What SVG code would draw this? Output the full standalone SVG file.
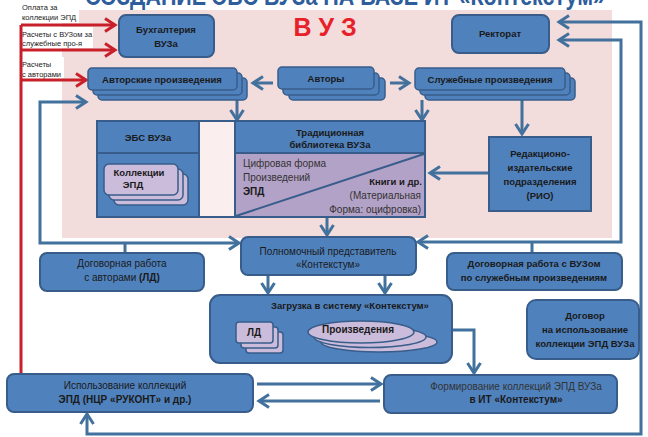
<svg xmlns="http://www.w3.org/2000/svg" width="648" height="437" viewBox="0 0 648 437">
<defs>
<style>
text{font-family:"Liberation Sans",Arial,sans-serif;fill:#1a1a1a}
.b{font-weight:bold}
.box{fill:#4f81bd;stroke:#385d8a;stroke-width:2}
.stk{fill:#4f81bd;stroke:#385d8a;stroke-width:1.5}
.pur{fill:#cbbcdb;stroke:#385d8a;stroke-width:1.5}
.ln{fill:none;stroke:#41719c;stroke-width:3}
.rd{fill:none;stroke:#c8202a;stroke-width:3}
.s95{font-size:9.5px}
.s10{font-size:10px}
.s7{font-size:7.5px}
</style>
<marker id="ab" markerUnits="userSpaceOnUse" markerWidth="16" markerHeight="16" viewBox="0 0 16 16" refX="13" refY="8" orient="auto-start-reverse">
<path d="M3,1.5 L13,8 L3,14.5" fill="none" stroke="#41719c" stroke-width="3"/>
</marker>
<marker id="ar" markerUnits="userSpaceOnUse" markerWidth="16" markerHeight="16" viewBox="0 0 16 16" refX="13" refY="8" orient="auto-start-reverse">
<path d="M3,1.5 L13,8 L3,14.5" fill="none" stroke="#c8202a" stroke-width="3"/>
</marker>
</defs>
<rect width="648" height="437" fill="#ffffff"/>
<rect x="62" y="10" width="550" height="228" fill="#f3dcdc"/>
<text x="345" y="5" class="b" font-size="26" text-anchor="middle" style="fill:#2e5d9c" textLength="520" lengthAdjust="spacingAndGlyphs">СОЗДАНИЕ ЭБС ВУЗа НА БАЗЕ ИТ «Контекстум»</text>
<text x="325" y="36" class="b" font-size="25" text-anchor="middle" style="fill:#e8202a">В У З</text>

<g id="labels-red">
<rect x="19" y="0" width="60" height="23" fill="#fff"/>
<rect x="19" y="27" width="74" height="21" fill="#fff"/>
<rect x="19" y="57" width="45" height="21" fill="#fff"/>
<text x="22" y="10" class="s7">Оплата за</text>
<text x="22" y="20" class="s7">коллекции ЭПД</text>
<text x="22" y="37" class="s7">Расчеты с ВУЗом за</text>
<text x="22" y="46" class="s7">служебные про-я</text>
<text x="22" y="67" class="s7">Расчеты</text>
<text x="22" y="77" class="s7">с авторами</text>
</g>

<g id="connectors">
<path class="rd" d="M21,25 V374"/>
<path class="rd" d="M21,25 H115" marker-end="url(#ar)"/>
<path class="rd" d="M21,50 H115" marker-end="url(#ar)"/>
<path class="rd" d="M21,80 H86" marker-end="url(#ar)"/>
<path class="ln" d="M273,83 H253" marker-end="url(#ab)"/>
<path class="ln" d="M390,83 H409" marker-end="url(#ab)"/>
<path class="ln" d="M237,100 V120" marker-end="url(#ab)"/>
<path class="ln" d="M422,100 V120" marker-end="url(#ab)"/>
<path class="ln" d="M522,100 V134" marker-end="url(#ab)"/>
<path class="ln" d="M489,173 H430" marker-end="url(#ab)"/>
<path class="ln" d="M205,180 H233" marker-end="url(#ab)"/>
<path class="ln" d="M229,195 H203" marker-end="url(#ab)"/>
<path class="ln" d="M327,217 V235" marker-end="url(#ab)"/>
<path class="ln" d="M86,102 H40 V243 H239" marker-start="url(#ab)" marker-end="url(#ab)"/>
<path class="ln" d="M125,243 V253"/>
<path class="ln" d="M559,40 H621 V242 H418" marker-start="url(#ab)" marker-end="url(#ab)"/>
<path class="ln" d="M532,242 V253"/>
<path class="ln" d="M559,22 H641 V434 H87 V414" marker-start="url(#ab)" marker-end="url(#ab)"/>
<path class="ln" d="M268,275 V293" marker-end="url(#ab)"/>
<path class="ln" d="M385,275 V293" marker-end="url(#ab)"/>
<path class="ln" d="M452,330 H474 V373" marker-end="url(#ab)"/>
<path class="ln" d="M257,384 H381" marker-end="url(#ab)"/>
<path class="ln" d="M380,401 H259" marker-end="url(#ab)"/>
</g>

<g id="buh">
<rect class="box" x="119" y="15" width="95" height="42" rx="7"/>
<text x="166" y="33" class="b s95" text-anchor="middle">Бухгалтерия</text>
<text x="166" y="47" class="b s95" text-anchor="middle">ВУЗа</text>
</g>
<g id="rektorat">
<rect class="box" x="452" y="15" width="97" height="38" rx="7"/>
<text x="500" y="37" class="b s95" text-anchor="middle">Ректорат</text>
</g>

<g id="avt-proizv">
<rect class="stk" x="98" y="78" width="149" height="22" rx="4"/>
<rect class="stk" x="93" y="73" width="149" height="22" rx="4"/>
<rect class="stk" x="88" y="68" width="149" height="22" rx="4"/>
<text x="162" y="83" class="b s95" text-anchor="middle">Авторские произведения</text>
</g>
<g id="avtory">
<rect class="stk" x="289" y="78" width="96" height="22" rx="4"/>
<rect class="stk" x="283" y="73" width="96" height="22" rx="4"/>
<rect class="stk" x="278" y="67" width="96" height="22" rx="4"/>
<text x="326" y="82" class="b s95" text-anchor="middle">Авторы</text>
</g>
<g id="sluzh">
<rect class="stk" x="425" y="78" width="150" height="22" rx="4"/>
<rect class="stk" x="420" y="73" width="150" height="22" rx="4"/>
<rect class="stk" x="415" y="68" width="150" height="22" rx="4"/>
<text x="490" y="83" class="b s95" text-anchor="middle">Служебные произведения</text>
</g>

<g id="ebs-lib">
<rect x="97" y="121" width="328" height="96" fill="#fbeeee" stroke="#385d8a" stroke-width="2"/>
<rect x="97" y="121" width="102" height="96" fill="#4f81bd" stroke="#385d8a" stroke-width="2"/>
<line x1="97" y1="153" x2="199" y2="153" stroke="#385d8a" stroke-width="2"/>
<text x="148" y="141" class="b s95" text-anchor="middle">ЭБС ВУЗа</text>
<rect x="235" y="121" width="190" height="32" fill="#4f81bd" stroke="#385d8a" stroke-width="2"/>
<rect x="235" y="153" width="190" height="64" fill="#b3a2c7" stroke="#385d8a" stroke-width="2"/>
<line x1="236" y1="216" x2="424" y2="154" stroke="#385d8a" stroke-width="2"/>
<text x="330" y="136" class="b s95" text-anchor="middle">Традиционная</text>
<text x="330" y="148" class="b s95" text-anchor="middle">библиотека ВУЗа</text>
<text x="243" y="167" class="s10" style="fill:#333">Цифровая форма</text>
<text x="243" y="181" class="s10" style="fill:#333">Произведений</text>
<text x="243" y="195" class="b s10">ЭПД</text>
<text x="422" y="185" class="b s95" text-anchor="end">Книги и др.</text>
<text x="421" y="199" class="s10" text-anchor="end" style="fill:#333">(Материальная</text>
<text x="421" y="213" class="s10" text-anchor="end" style="fill:#333">Форма: оцифровка)</text>
</g>
<g id="kollekcii">
<rect class="pur" x="114" y="174" width="74" height="31" rx="5"/>
<rect class="pur" x="109" y="169" width="74" height="31" rx="5"/>
<rect class="pur" x="104" y="164" width="74" height="31" rx="5"/>
<text x="139" y="176" class="b s95" text-anchor="middle">Коллекции</text>
<text x="133" y="188" class="b s95" text-anchor="middle">ЭПД</text>
</g>

<g id="rio">
<rect class="box" x="489" y="137" width="102" height="74"/>
<text x="540" y="157" class="b s95" text-anchor="middle">Редакционо-</text>
<text x="540" y="171" class="b s95" text-anchor="middle">издательские</text>
<text x="540" y="185" class="b s95" text-anchor="middle">подразделения</text>
<text x="540" y="199" class="b s95" text-anchor="middle">(РИО)</text>
</g>

<g id="polnomoch">
<rect class="box" x="241" y="237" width="175" height="38" rx="7"/>
<text x="328" y="255" class="s10" text-anchor="middle">Полномочный представитель</text>
<text x="328" y="268" class="s10" text-anchor="middle">«Контекстум»</text>
</g>
<g id="dog-avt">
<rect class="box" x="40" y="253" width="164" height="38" rx="7"/>
<text x="122" y="267" class="s10" text-anchor="middle">Договорная работа</text>
<text x="122" y="281" class="s10" text-anchor="middle">с авторами <tspan class="b">(ЛД)</tspan></text>
</g>
<g id="dog-vuz">
<rect class="box" x="447" y="253" width="175" height="37" rx="7"/>
<text x="534" y="267" class="b s95" text-anchor="middle">Договорная работа с ВУЗом</text>
<text x="534" y="281" class="b s95" text-anchor="middle">по служебным произведениям</text>
</g>

<g id="zagruzka">
<rect class="box" x="210" y="295" width="242" height="68" rx="10"/>
<text x="350" y="309" class="b s95" text-anchor="middle">Загрузка в систему «Контекстум»</text>
</g>
<g id="ld">
<rect class="pur" x="246" y="332" width="37" height="21" rx="3"/>
<rect class="pur" x="241" y="327" width="37" height="21" rx="3"/>
<rect class="pur" x="236" y="322" width="37" height="21" rx="3"/>
<text x="254" y="336" class="b s10" text-anchor="middle">ЛД</text>
</g>
<g id="proizv">
<ellipse class="pur" cx="379" cy="342" rx="58" ry="10"/>
<ellipse class="pur" cx="370" cy="337" rx="56" ry="10.5"/>
<ellipse class="pur" cx="361" cy="332" rx="53" ry="11"/>
<text x="358" y="333" class="b s10" text-anchor="middle">Произведения</text>
</g>

<g id="dogovor">
<rect class="box" x="527" y="300" width="112" height="59" rx="9"/>
<text x="585" y="319" class="b s95" text-anchor="middle">Договор</text>
<text x="585" y="333" class="b s95" text-anchor="middle">на использование</text>
<text x="585" y="347" class="b s95" text-anchor="middle">коллекции ЭПД ВУЗа</text>
</g>

<g id="ispolz">
<rect class="box" x="7" y="374" width="246" height="38" rx="7"/>
<text x="125" y="389" class="s10" text-anchor="middle">Использование коллекций</text>
<text x="125" y="403" class="b s10" text-anchor="middle">ЭПД (НЦР «РУКОНТ» и др.)</text>
</g>
<g id="formir">
<rect class="box" x="384" y="375" width="233" height="38" rx="7"/>
<text x="516" y="390" class="s10" text-anchor="middle" style="fill:#333">Формирование коллекций ЭПД ВУЗа</text>
<text x="516" y="403" class="b s10" text-anchor="middle">в ИТ «Контекстум»</text>
</g>
</svg>
